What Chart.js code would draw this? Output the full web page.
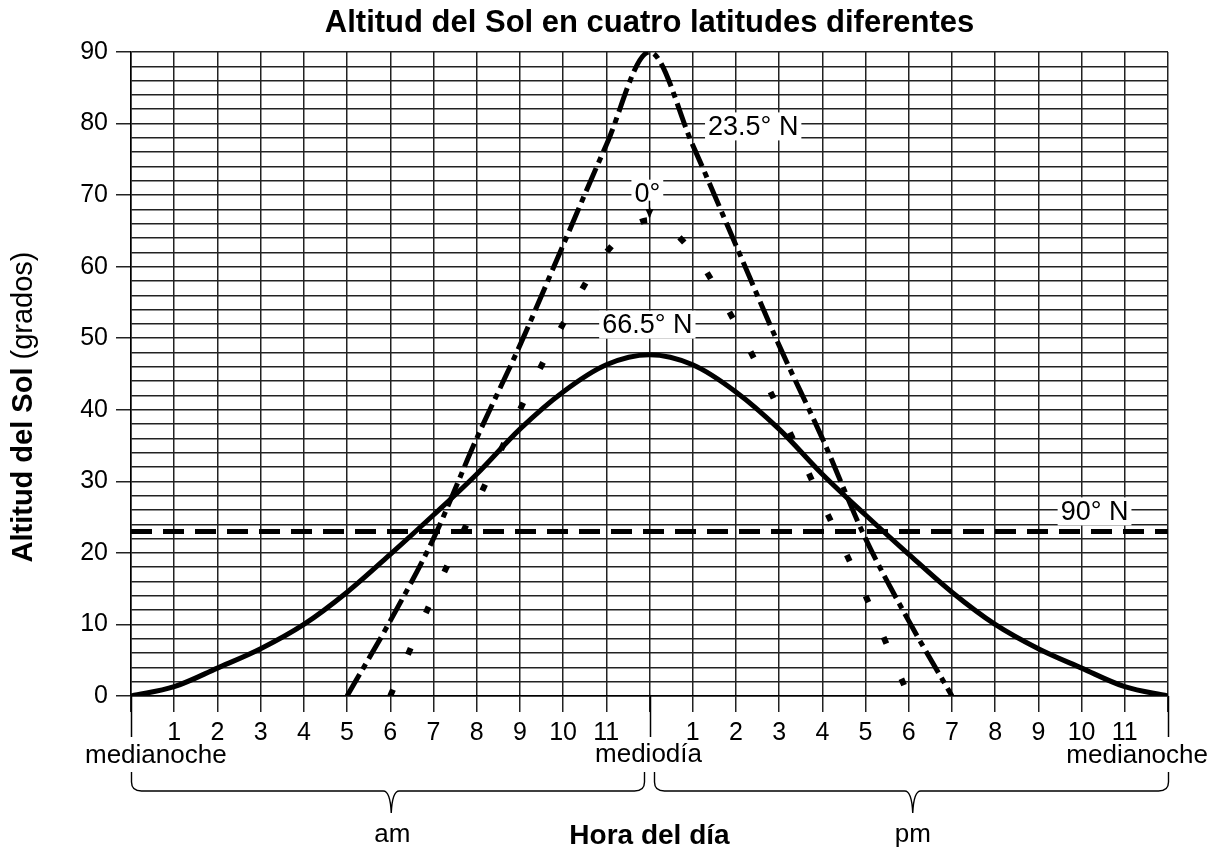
<!DOCTYPE html>
<html>
<head>
<meta charset="utf-8">
<script src="https://cdn.jsdelivr.net/npm/chart.js@4/dist/chart.umd.min.js"></script>
<style>
  html, body { margin: 0; padding: 0; background: #fff; }
  #wrap { width: 1217px; height: 851px; }
</style>
</head>
<body>
<div id="wrap"><canvas id="grafico"></canvas></div>
<script>
// horas del día (0 = medianoche, 12 = mediodía, 24 = medianoche)
var horas = [0, 1, 2, 3, 4, 5, 6, 7, 8, 9, 10, 11, 12, 13, 14, 15, 16, 17, 18, 19, 20, 21, 22, 23, 24];
var alt665 = [0, 1.3, 3.9, 6.6, 10, 14.5, 19.8, 25.3, 31, 37.3, 42.5, 46.3, 47.7, 46.3, 42.5, 37.3, 31, 25.3, 19.8, 14.5, 10, 6.6, 3.9, 1.3, 0];

var horas235 = [5, 6, 7, 8, 9, 10, 11, 12, 13, 14, 15, 16, 17, 18, 19];
var alt235 = [0, 10.5, 22, 36, 49, 63, 77, 90, 77, 63, 49, 36, 22, 10.5, 0];

var horas0 = [6, 7, 8, 9, 10, 11, 12, 13, 14, 15, 16, 17, 18];
var alt0 = [0, 14, 27, 40, 52, 62, 66.5, 62, 52, 40, 27, 14, 0];

var horas90 = [0, 24];
var alt90 = [23, 23];

var yTicks = [0, 10, 20, 30, 40, 50, 60, 70, 80, 90];

var TITULO = 'Altitud del Sol en cuatro latitudes diferentes';
var FONT = '"Liberation Sans", Arial, sans-serif';

function puntos(xs, ys) {
  return xs.map(function (x, i) { return { x: x, y: ys[i] }; });
}

// etiquetas de latitud con fondo blanco
var etiquetas = [
  { texto: '23.5° N', x: 14.4, y: 79.6 },
  { texto: '0°', x: 11.95, y: 70.2 },
  { texto: '66.5° N', x: 11.95, y: 51.9 },
  { texto: '90° N', x: 22.3, y: 25.8 }
];

var decoracion = {
  id: 'decoracion',
  beforeDatasetsDraw: function (chart) {
    var ctx = chart.ctx;
    var xs = chart.scales.x;
    var ys = chart.scales.y;
    ctx.save();
    ctx.font = '27px ' + FONT;
    ctx.textAlign = 'center';
    ctx.textBaseline = 'middle';
    etiquetas.forEach(function (e) {
      var px = xs.getPixelForValue(e.x);
      var py = ys.getPixelForValue(e.y);
      var w = ctx.measureText(e.texto).width;
      ctx.fillStyle = '#fff';
      ctx.fillRect(px - w / 2 - 3, py - 14, w + 6, 28);
      ctx.fillStyle = '#000';
      ctx.fillText(e.texto, px, py + 1);
    });
    // flecha del 0°
    var ax = xs.getPixelForValue(12);
    var a1 = ys.getPixelForValue(68.8);
    var a2 = ys.getPixelForValue(66.9);
    ctx.strokeStyle = '#000';
    ctx.lineWidth = 1.5;
    ctx.beginPath();
    ctx.moveTo(ax, a1 - 3);
    ctx.lineTo(ax, a2);
    ctx.stroke();
    ctx.beginPath();
    ctx.moveTo(ax - 4, a2 - 8);
    ctx.lineTo(ax + 4, a2 - 8);
    ctx.lineTo(ax, a2 + 1);
    ctx.closePath();
    ctx.fillStyle = '#000';
    ctx.fill();
    ctx.restore();
  },
  afterDraw: function (chart) {
    var ctx = chart.ctx;
    var xs = chart.scales.x;
    var area = chart.chartArea;
    ctx.save();
    ctx.fillStyle = '#000';
    ctx.strokeStyle = '#000';

    // título centrado sobre el área del gráfico
    ctx.font = 'bold 31px ' + FONT;
    ctx.textAlign = 'center';
    ctx.textBaseline = 'middle';
    ctx.fillText(TITULO, (area.left + area.right) / 2, 23);

    // título del eje y (negrita + normal)
    ctx.save();
    ctx.translate(24, 407);
    ctx.rotate(-Math.PI / 2);
    ctx.textBaseline = 'middle';
    ctx.textAlign = 'left';
    ctx.font = 'bold 29px ' + FONT;
    var t1 = 'Altitud del Sol ';
    var w1 = ctx.measureText(t1).width;
    ctx.font = '29px ' + FONT;
    var t2 = '(grados)';
    var w2 = ctx.measureText(t2).width;
    var x0 = -(w1 + w2) / 2;
    ctx.font = 'bold 29px ' + FONT;
    ctx.fillText(t1, x0, 0);
    ctx.font = '29px ' + FONT;
    ctx.fillText(t2, x0 + w1, 0);
    ctx.restore();

    // marcas largas en medianoche y mediodía
    ctx.lineWidth = 1.5;
    [0, 12, 24].forEach(function (v) {
      var px = Math.round(xs.getPixelForValue(v)) + 0.5;
      ctx.beginPath();
      ctx.moveTo(px, area.bottom);
      ctx.lineTo(px, area.bottom + 41);
      ctx.stroke();
    });

    ctx.font = '26px ' + FONT;
    ctx.textBaseline = 'alphabetic';
    ctx.textAlign = 'left';
    ctx.fillText('medianoche', xs.getPixelForValue(0) - 46, 763);
    ctx.textAlign = 'right';
    ctx.fillText('medianoche', xs.getPixelForValue(24) + 40, 763);
    ctx.textAlign = 'center';
    ctx.fillText('mediodía', xs.getPixelForValue(12) - 1, 762);

    // llaves am / pm
    function llave(a, b, m) {
      var top = 772, hy = 791, tip = 813;
      ctx.beginPath();
      ctx.moveTo(a, top);
      ctx.lineTo(a, hy - 9);
      ctx.quadraticCurveTo(a, hy, a + 10, hy);
      ctx.lineTo(m - 8, hy);
      ctx.quadraticCurveTo(m - 1, hy, m, tip);
      ctx.quadraticCurveTo(m + 1, hy, m + 8, hy);
      ctx.lineTo(b - 10, hy);
      ctx.quadraticCurveTo(b, hy, b, hy - 9);
      ctx.lineTo(b, top);
      ctx.stroke();
    }
    ctx.lineWidth = 1.4;
    llave(xs.getPixelForValue(0) + 0.5, xs.getPixelForValue(12) - 5, xs.getPixelForValue(6) + 1);
    llave(xs.getPixelForValue(12) + 5, xs.getPixelForValue(24) + 0.5, xs.getPixelForValue(18) + 4);

    ctx.textAlign = 'center';
    ctx.font = '26px ' + FONT;
    ctx.fillText('am', xs.getPixelForValue(6) + 2, 842);
    ctx.fillText('pm', xs.getPixelForValue(18) + 4, 842);
    ctx.font = 'bold 28px ' + FONT;
    ctx.fillText('Hora del día', xs.getPixelForValue(12), 844);
    ctx.restore();
  }
};

var ctx = document.getElementById('grafico');

new Chart(ctx, {
  type: 'line',
  data: {
    datasets: [
      {
        label: '23.5° N',
        data: puntos(horas235, alt235),
        borderColor: '#000',
        borderWidth: 5,
        borderDash: [25, 6, 6, 6],
        cubicInterpolationMode: 'monotone',
        pointRadius: 0,
        fill: false
      },
      {
        label: '0°',
        data: puntos(horas0, alt0),
        borderColor: '#000',
        borderWidth: 6,
        borderDash: [7, 38],
        cubicInterpolationMode: 'monotone',
        pointRadius: 0,
        fill: false
      },
      {
        label: '66.5° N',
        data: puntos(horas, alt665),
        borderColor: '#000',
        borderWidth: 5,
        cubicInterpolationMode: 'monotone',
        pointRadius: 0,
        fill: false
      },
      {
        label: '90° N',
        data: puntos(horas90, alt90),
        borderColor: '#000',
        borderWidth: 5,
        borderDash: [21, 11],
        pointRadius: 0,
        fill: false
      }
    ]
  },
  options: {
    responsive: true,
    maintainAspectRatio: false,
    animation: false,
    layout: { padding: { left: 0, right: 49, top: 52, bottom: 0 } },
    plugins: {
      legend: { display: false },
      tooltip: { enabled: false },
      title: { display: false }
    },
    scales: {
      x: {
        type: 'linear',
        min: 0,
        max: 24,
        afterFit: function (scale) { scale.height = 155; },
        border: { color: '#000', width: 1.5 },
        grid: { color: '#222', lineWidth: 1.5, tickLength: 16, tickColor: '#222' },
        ticks: {
          stepSize: 1,
          autoSkip: false,
          maxRotation: 0,
          padding: 6,
          color: '#000',
          font: { family: FONT, size: 25 },
          callback: function (v) {
            if (v === 0 || v === 12 || v === 24) return '';
            return String(v % 12);
          }
        }
      },
      y: {
        min: 0,
        max: 90,
        afterFit: function (scale) { scale.width = 131; },
        border: { color: '#000', width: 1.5 },
        grid: {
          color: '#222',
          lineWidth: 1.5,
          tickLength: 15,
          tickColor: function (c) {
            return (c.tick && yTicks.indexOf(c.tick.value) >= 0) ? '#222' : 'rgba(0,0,0,0)';
          }
        },
        ticks: {
          stepSize: 2,
          autoSkip: false,
          padding: 8,
          color: '#000',
          font: { family: FONT, size: 25 },
          callback: function (v) {
            return yTicks.indexOf(v) >= 0 ? String(v) : '';
          }
        }
      }
    }
  },
  plugins: [decoracion]
});
</script>
</body>
</html>
